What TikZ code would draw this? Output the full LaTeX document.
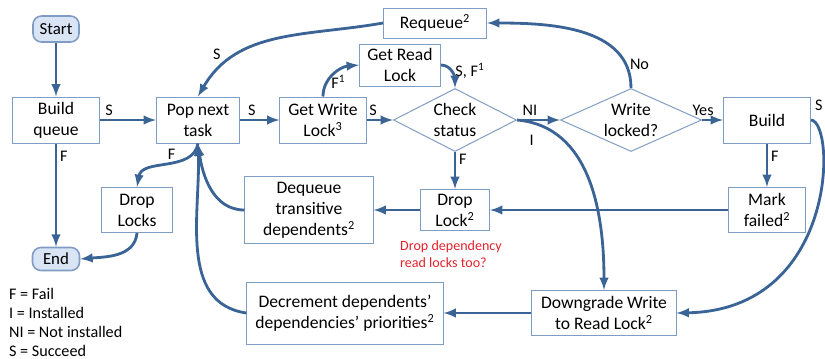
\documentclass[tikz,border=0pt]{standalone}
\usepackage{fontspec}
\setmainfont{Carlito}
\usepackage{xcolor}
\usetikzlibrary{shapes.geometric,arrows,positioning}

\definecolor{flowblue}{HTML}{3B6496}
\definecolor{boxline}{HTML}{7F9CC4}
\definecolor{termfill}{HTML}{D9E5F4}
\definecolor{noteRed}{HTML}{E4222C}

\begin{document}
\begin{tikzpicture}[x=0.025cm,y=0.025cm,
	box/.style={draw=boxline,line width=0.7pt,fill=white,align=center,inner sep=1pt,font=\fontsize{12.5}{15}\selectfont},
	term/.style={box,rounded corners=6pt,fill=termfill,line width=1.1pt,font=\fontsize{12}{14}\selectfont},
	decision/.style={diamond,draw=boxline,line width=0.7pt,fill=white,align=center,inner sep=0pt,aspect=2,font=\fontsize{12.5}{15}\selectfont},
	flow/.style={-latex,line width=2pt,flowblue},
	lbl/.style={font=\fontsize{11.5}{13}\selectfont,text=black,inner sep=2pt}]
	\useasboundingbox (0,0) rectangle (825,-358);
	% terminals
	\node[term,minimum width=1.15cm,minimum height=0.65cm] (start) at (56,-29) {Start};
	\node[term,minimum width=1.175cm,minimum height=0.575cm] (stop) at (56,-259) {End};
	% top row
	\node[box,minimum width=2.15cm,minimum height=1.15cm] (queue) at (56,-120) {Build\\queue};
	\node[box,minimum width=2.075cm,minimum height=1.15cm] (pop) at (198,-120) {Pop next\\task};
	\node[box,minimum width=2.15cm,minimum height=1.15cm] (getwrite) at (323,-120) {Get Write\\Lock\textsuperscript{3}};
	\node[box,minimum width=2.025cm,minimum height=1.05cm] (getread) at (400,-65) {Get Read\\Lock};
	\node[box,minimum width=2.575cm,minimum height=0.75cm] (requeue) at (435,-23) {Requeue\textsuperscript{2}};
	\node[decision,minimum width=3.075cm,minimum height=1.575cm] (check) at (455,-120) {Check\\status};
	\node[decision,minimum width=3.525cm,minimum height=1.575cm] (wlocked) at (631,-120) {Write\\locked?};
	\node[box,minimum width=2.175cm,minimum height=1.15cm] (build) at (767,-120) {Build};
	% middle row
	\node[box,minimum width=1.775cm,minimum height=1.125cm] (droplocks) at (137,-210) {Drop\\Locks};
	\node[box,minimum width=3.2cm,minimum height=1.675cm] (dequeue) at (309,-210) {Dequeue\\transitive\\dependents\textsuperscript{2}};
	\node[box,minimum width=1.725cm,minimum height=1.025cm] (droplock) at (455,-210) {Drop\\Lock\textsuperscript{2}};
	\node[box,minimum width=1.925cm,minimum height=1.125cm] (markfailed) at (767,-210) {Mark\\failed\textsuperscript{2}};
	\node[text=noteRed,align=left,font=\fontsize{10}{12}\selectfont] (note) at (451,-254) {Drop dependency\\read locks too?};
	% bottom row
	\node[box,minimum width=4.9cm,minimum height=1.55cm] (decrement) at (345,-313) {Decrement dependents’\\dependencies’ priorities\textsuperscript{2}};
	\node[box,minimum width=3.6cm,minimum height=1.125cm] (downgrade) at (604,-313) {Downgrade Write\\to Read Lock\textsuperscript{2}};
	% legend
	\node[lbl,align=left,anchor=west,font=\fontsize{11.5}{13.5}\selectfont] (legend) at (6,-322) {F = Fail\\I = Installed\\NI = Not installed\\S = Succeed};

	% connectors
	\draw[flow] (start) -- (queue);
	\draw[flow] (queue) -- (pop) node[lbl,above,pos=0.17] (sQueue) {S};
	\draw[flow] (queue) -- (stop) node[lbl,right,pos=0.12] (fQueue) {F};
	\draw[flow] (pop) -- (getwrite) node[lbl,above,pos=0.3] (sPop) {S};
	\draw[flow] (getwrite) -- (check) node[lbl,above,pos=0.25] (sWrite) {S};
	\draw[flow] (getwrite.north) to[out=90,in=185] node[lbl,right,pos=0.3] (fWrite) {F\textsuperscript{1}} (getread.west);
	\draw[flow] (getread.east) to[out=0,in=90] node[lbl,right,pos=0.45] (sRead) {S, F\textsuperscript{1}} (check.north);
	\draw[flow] (check.east) -- (wlocked.west) node[lbl,above,pos=0.3] (niCheck) {NI};
	\draw[flow] (check.east) to[out=-5,in=90] node[lbl,below=6pt,pos=0.07] (iCheck) {I} (downgrade.north);
	\draw[flow] (wlocked) -- (build) node[lbl,above,pos=0.05] (yesLock) {Yes};
	\draw[flow] (wlocked.north) to[out=90,in=0] node[lbl,right,pos=0.15] (noLock) {No} (requeue.east);
	\draw[flow] (requeue.west) to[out=190,in=60] node[lbl,above left,pos=0.8] (sRequeue) {S} (pop.north);
	\draw[flow] (check.south) -- (droplock.north) node[lbl,right,pos=0.2] (fCheck) {F};
	\draw[flow] (build) -- (markfailed) node[lbl,right,pos=0.3] (fBuild) {F};
	\draw[flow] (build.east) .. controls (836,-122) and (838,-310) .. (downgrade.east) node[lbl,above right,pos=0,yshift=4pt] (sBuild) {S};
	\draw[flow] (markfailed) -- (droplock);
	\draw[flow] (droplock) -- (dequeue);
	\draw[flow] (dequeue.west) to[out=180,in=-82] (pop.south);
	\draw[flow] (decrement.west) to[out=172,in=-88] (pop.south);
	\draw[flow] (downgrade) -- (decrement);
	\draw[flow] (pop.south) to[out=-100,in=80] node[lbl,above,pos=0.45] (fPop) {F} (droplocks.north);
	\draw[flow] (droplocks.south) to[out=-95,in=5] (stop.east);
\end{tikzpicture}
\end{document}
